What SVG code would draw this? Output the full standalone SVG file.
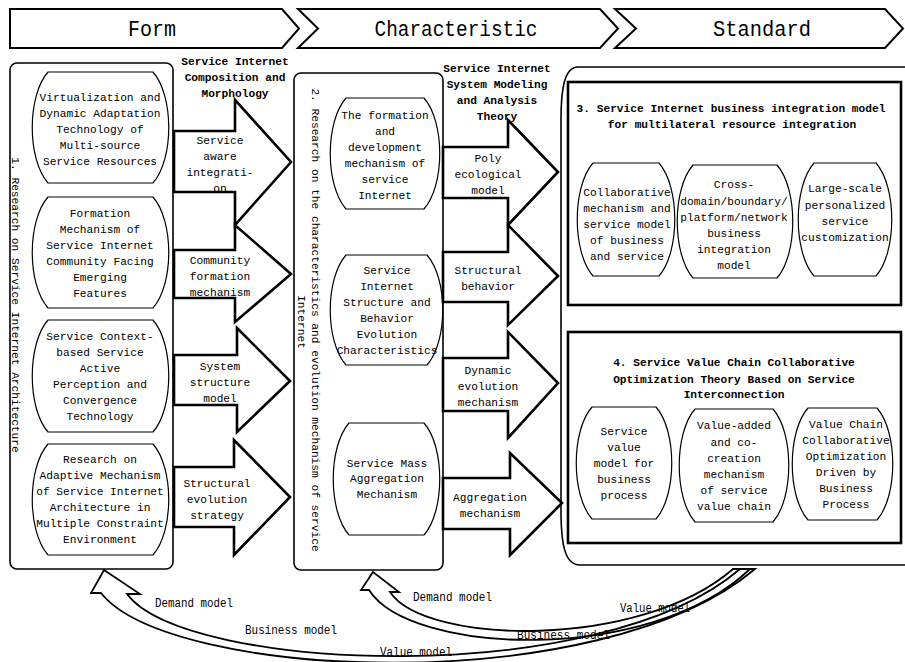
<svg xmlns="http://www.w3.org/2000/svg" width="905" height="662" viewBox="0 0 905 662">
<style>
text{font-family:"Liberation Mono","DejaVu Sans Mono",monospace;fill:#000}
.t{font-size:11.2px;text-anchor:middle}
.b{font-size:11.2px;font-weight:bold;text-anchor:middle}
.h{font-size:22px;text-anchor:middle}
.l{font-size:12px}
.lz{fill:none;stroke:#000;stroke-width:1.2}
.box{fill:none;stroke:#000;stroke-width:1.6}
.thick{fill:none;stroke:#000;stroke-width:2.6}
.blk{fill:none;stroke:#000;stroke-width:2.6;stroke-linejoin:miter}
.hd{fill:#fff;stroke:#000;stroke-width:2}
.crv{fill:none;stroke:#000;stroke-width:1.8;stroke-linejoin:miter}
</style>
<rect width="905" height="662" fill="#fff"/>

<g id="header">
  <g id="hdr-form">
    <path class="hd" d="M10,9 H282 L299,28.5 L282,48 H10 Z"/>
    <text class="h" x="152" y="36" textLength="48" lengthAdjust="spacingAndGlyphs">Form</text>
  </g>
  <g id="hdr-characteristic">
    <path class="hd" d="M298,9 H600 L618,28.5 L600,48 H298 L318,28.5 Z"/>
    <text class="h" x="456" y="36" textLength="163" lengthAdjust="spacingAndGlyphs">Characteristic</text>
  </g>
  <g id="hdr-standard">
    <path class="hd" d="M615,9 H885 L903,28.5 L885,48 H615 L636,28.5 Z"/>
    <text class="h" x="762" y="36" textLength="98" lengthAdjust="spacingAndGlyphs">Standard</text>
  </g>
</g>

<g id="col1">
  <rect class="box" x="10" y="63" width="163" height="506" rx="7"/>
  <text class="t" transform="translate(15,305) rotate(90)" dominant-baseline="central">1. Research on Service Internet Architecture</text>
</g>
<g id="n1a">
  <path class="lz" d="M48,72 H153 C174,96 174,159 153,183 H48 C27,159 27,96 48,72 Z"/>
  <text class="t" x="100" y="101">Virtualization and</text>
  <text class="t" x="100" y="117">Dynamic Adaptation</text>
  <text class="t" x="100" y="133">Technology of</text>
  <text class="t" x="100" y="149">Multi-source</text>
  <text class="t" x="100" y="165">Service Resources</text>
</g>
<g id="n1b">
  <path class="lz" d="M48,197 H153 C174,221 174,284 153,308 H48 C27,284 27,221 48,197 Z"/>
  <text class="t" x="100" y="217">Formation</text>
  <text class="t" x="100" y="233">Mechanism of</text>
  <text class="t" x="100" y="249">Service Internet</text>
  <text class="t" x="100" y="265">Community Facing</text>
  <text class="t" x="100" y="281">Emerging</text>
  <text class="t" x="100" y="297">Features</text>
</g>
<g id="n1c">
  <path class="lz" d="M48,320 H153 C174,344 174,408 153,432 H48 C27,408 27,344 48,320 Z"/>
  <text class="t" x="100" y="340">Service Context-</text>
  <text class="t" x="100" y="356">based Service</text>
  <text class="t" x="100" y="372">Active</text>
  <text class="t" x="100" y="388">Perception and</text>
  <text class="t" x="100" y="404">Convergence</text>
  <text class="t" x="100" y="420">Technology</text>
</g>
<g id="n1d">
  <path class="lz" d="M48,444 H153 C174,468 174,531 153,555 H48 C27,531 27,468 48,444 Z"/>
  <text class="t" x="100" y="463">Research on</text>
  <text class="t" x="100" y="479">Adaptive Mechanism</text>
  <text class="t" x="100" y="495">of Service Internet</text>
  <text class="t" x="100" y="511">Architecture in</text>
  <text class="t" x="100" y="527">Multiple Constraint</text>
  <text class="t" x="100" y="543">Environment</text>
</g>

<g id="col2">
  <rect class="box" x="294" y="73" width="149" height="497" rx="7"/>
  <text class="t" transform="translate(315,320) rotate(90)" dominant-baseline="central">2. Research on the characteristics and evolution mechanism of service</text>
  <text class="t" transform="translate(301,322) rotate(90)" dominant-baseline="central">Internet</text>
</g>
<g id="n2a">
  <path class="lz" d="M346,98 H424 C445,122 445,185 424,209 H346 C325,185 325,122 346,98 Z"/>
  <text class="t" x="385" y="119">The formation</text>
  <text class="t" x="385" y="135">and</text>
  <text class="t" x="385" y="151">development</text>
  <text class="t" x="385" y="167">mechanism of</text>
  <text class="t" x="385" y="183">service</text>
  <text class="t" x="385" y="199">Internet</text>
</g>
<g id="n2b">
  <path class="lz" d="M346,255 H427 C448,279 448,341 427,365 H346 C325,341 325,279 346,255 Z"/>
  <text class="t" x="387" y="274">Service</text>
  <text class="t" x="387" y="290">Internet</text>
  <text class="t" x="387" y="306">Structure and</text>
  <text class="t" x="387" y="322">Behavior</text>
  <text class="t" x="387" y="338">Evolution</text>
  <text class="t" x="387" y="354">Characteristics</text>
</g>
<g id="n2c">
  <path class="lz" d="M349,423 H424 C445,447 445,511 424,535 H349 C328,511 328,447 349,423 Z"/>
  <text class="t" x="387" y="467">Service Mass</text>
  <text class="t" x="387" y="482">Aggregation</text>
  <text class="t" x="387" y="498">Mechanism</text>
</g>

<g id="col3">
  <path class="box" d="M905,67 H578 C564,67 561,90 561,120 V510 C561,545 565,565 580,565 H905"/>
</g>
<g id="box3">
  <rect class="thick" x="568" y="82" width="333" height="223"/>
  <text class="b" x="731" y="112">3. Service Internet business integration model</text>
  <text class="b" x="732" y="128">for multilateral resource integration</text>
</g>
<g id="n3a">
  <path class="lz" d="M593,163 H659 C680,187 680,252 659,276 H593 C572,252 572,187 593,163 Z"/>
  <text class="t" x="627" y="196">Collaborative</text>
  <text class="t" x="627" y="212">mechanism and</text>
  <text class="t" x="627" y="228">service model</text>
  <text class="t" x="627" y="244">of business</text>
  <text class="t" x="627" y="260">and service</text>
</g>
<g id="n3b">
  <path class="lz" d="M693,165 H777 C798,189 798,254 777,278 H693 C672,254 672,189 693,165 Z"/>
  <text class="t" x="734" y="188">Cross-</text>
  <text class="t" x="734" y="205">domain/boundary/</text>
  <text class="t" x="734" y="221">platform/network</text>
  <text class="t" x="734" y="237">business</text>
  <text class="t" x="734" y="253">integration</text>
  <text class="t" x="734" y="269">model</text>
</g>
<g id="n3c">
  <path class="lz" d="M814,163 H876 C897,187 897,252 876,276 H814 C793,252 793,187 814,163 Z"/>
  <text class="t" x="845" y="192">Large-scale</text>
  <text class="t" x="845" y="209">personalized</text>
  <text class="t" x="845" y="225">service</text>
  <text class="t" x="845" y="241">customization</text>
</g>

<g id="box4">
  <rect class="thick" x="568" y="332" width="333" height="211"/>
  <text class="b" x="734" y="366">4. Service Value Chain Collaborative</text>
  <text class="b" x="734" y="383">Optimization Theory Based on Service</text>
  <text class="b" x="734" y="398">Interconnection</text>
</g>
<g id="n4a">
  <path class="lz" d="M592,407 H656 C677,431 677,495 656,519 H592 C571,495 571,431 592,407 Z"/>
  <text class="t" x="624" y="435">Service</text>
  <text class="t" x="624" y="451">value</text>
  <text class="t" x="624" y="467">model for</text>
  <text class="t" x="624" y="483">business</text>
  <text class="t" x="624" y="499">process</text>
</g>
<g id="n4b">
  <path class="lz" d="M695,409 H773 C794,433 794,498 773,522 H695 C674,498 674,433 695,409 Z"/>
  <text class="t" x="734" y="429">Value-added</text>
  <text class="t" x="734" y="446">and co-</text>
  <text class="t" x="734" y="462">creation</text>
  <text class="t" x="734" y="478">mechanism</text>
  <text class="t" x="734" y="494">of service</text>
  <text class="t" x="734" y="510">value chain</text>
</g>
<g id="n4c">
  <path class="lz" d="M808,408 H877 C898,432 898,496 877,520 H808 C787,496 787,432 808,408 Z"/>
  <text class="t" x="846" y="428">Value Chain</text>
  <text class="t" x="846" y="444">Collaborative</text>
  <text class="t" x="846" y="460">Optimization</text>
  <text class="t" x="846" y="476">Driven by</text>
  <text class="t" x="846" y="492">Business</text>
  <text class="t" x="846" y="508">Process</text>
</g>

<g id="connectors">
  <polygon class="blk" points="174,131 235,131 235,100 291,162 235,225 235,192 174,192"/>
  <polygon class="blk" points="174,250 235,250 235,225 291,274 235,322 235,298 174,298"/>
  <polygon class="blk" points="174,355 237,355 237,328 290,381 237,432 237,405 174,405"/>
  <polygon class="blk" points="174,467 234,467 234,440 290,497 234,555 234,527 174,527"/>
  <polygon class="blk" points="443,147 508,147 508,120 558,172 508,225 508,198 443,198"/>
  <polygon class="blk" points="443,252 508,252 508,225 558,276 508,325 508,302 443,302"/>
  <polygon class="blk" points="443,358 508,358 508,332 558,383 508,438 508,411 443,411"/>
  <polygon class="blk" points="443,478 510,478 510,453 562,503 510,555 510,529 443,529"/>

  <path class="crv" d="M755,569 C600,700 170,680 101,593 L91,593 L104,570 L140,594 L127,594 C185,672 600,690 740,569 Z"/>
  <path class="crv" d="M750,569 C650,665 410,655 369,590 L361,590 L373,572 L399,592 L390,592 C425,645 640,650 733,569 Z"/>

  <text class="t" x="220" y="144">Service</text>
  <text class="t" x="220" y="160">aware</text>
  <text class="t" x="220" y="176">integrati-</text>
  <text class="t" x="220" y="192">on</text>
  <text class="t" x="220" y="264">Community</text>
  <text class="t" x="220" y="280">formation</text>
  <text class="t" x="220" y="296">mechanism</text>
  <text class="t" x="220" y="370">System</text>
  <text class="t" x="220" y="386">structure</text>
  <text class="t" x="220" y="402">model</text>
  <text class="t" x="217" y="487">Structural</text>
  <text class="t" x="217" y="503">evolution</text>
  <text class="t" x="217" y="519">strategy</text>

  <text class="t" x="488" y="162">Poly</text>
  <text class="t" x="488" y="178">ecological</text>
  <text class="t" x="488" y="194">model</text>
  <text class="t" x="488" y="274">Structural</text>
  <text class="t" x="488" y="290">behavior</text>
  <text class="t" x="488" y="374">Dynamic</text>
  <text class="t" x="488" y="390">evolution</text>
  <text class="t" x="488" y="406">mechanism</text>
  <text class="t" x="490" y="501">Aggregation</text>
  <text class="t" x="490" y="517">mechanism</text>

  <text class="l" x="155" y="607" textLength="78" lengthAdjust="spacingAndGlyphs">Demand model</text>
  <text class="l" x="245" y="634" textLength="92" lengthAdjust="spacingAndGlyphs">Business model</text>
  <text class="l" x="380" y="656" textLength="72" lengthAdjust="spacingAndGlyphs">Value model</text>
  <text class="l" x="413" y="601" textLength="79" lengthAdjust="spacingAndGlyphs">Demand model</text>
  <text class="l" x="517" y="639" textLength="93" lengthAdjust="spacingAndGlyphs">Business model</text>
  <text class="l" x="620" y="612" textLength="70" lengthAdjust="spacingAndGlyphs">Value model</text>
</g>

<g id="titles">
  <text class="b" x="235" y="65">Service Internet</text>
  <text class="b" x="235" y="81">Composition and</text>
  <text class="b" x="235" y="97">Morphology</text>
  <text class="b" x="497" y="72">Service Internet</text>
  <text class="b" x="497" y="88">System Modeling</text>
  <text class="b" x="497" y="104">and Analysis</text>
  <text class="b" x="497" y="120">Theory</text>
</g>
</svg>
